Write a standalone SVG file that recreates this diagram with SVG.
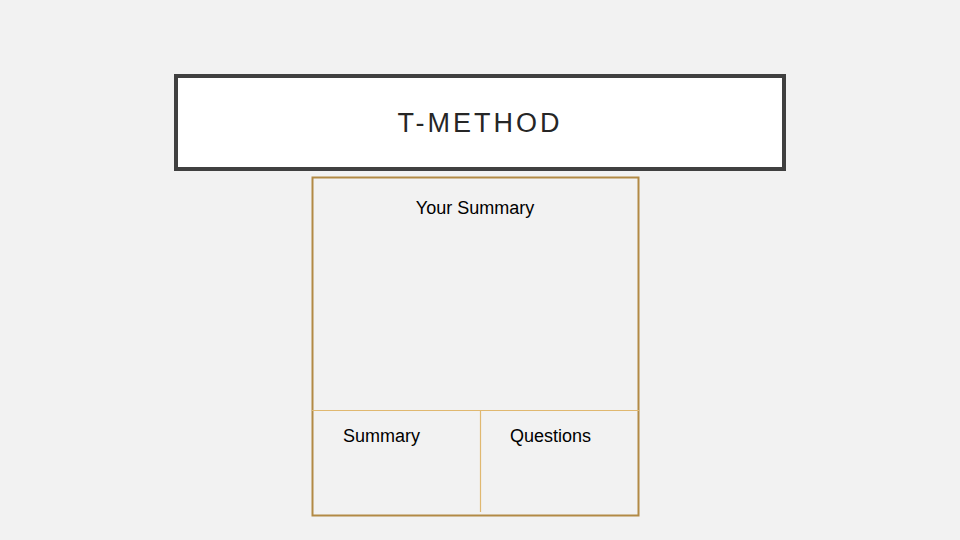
<svg xmlns="http://www.w3.org/2000/svg" width="960" height="540" viewBox="0 0 960 540">
<style>
.lbl{font-family:"Liberation Sans",Arial,sans-serif;font-size:18px;fill:#000}
.brown{stroke:#b28a45;fill:none}
</style>
<rect width="960" height="540" fill="#f2f2f2"/>
<g id="title">
<rect x="176" y="76" width="608" height="93" fill="#fff" stroke="#404040" stroke-width="4"/>
<text x="480" y="132" text-anchor="middle" font-family="'Liberation Sans',Arial,sans-serif" font-size="27" letter-spacing="3" fill="#262626">T-METHOD</text>
</g>
<g id="your-summary">
<rect x="312.5" y="177.5" width="326" height="338" class="brown" stroke-width="2"/>
<text class="lbl" x="475" y="214" text-anchor="middle">Your Summary</text>
</g>
<g id="connectors">
<line x1="312" y1="410.5" x2="639" y2="410.5" stroke="#e0b870" stroke-width="1.2"/>
<line x1="480.5" y1="411" x2="480.5" y2="512" stroke="#e0b870" stroke-width="1.2"/>
</g>
<g id="summary">
<text class="lbl" x="343" y="442">Summary</text>
</g>
<g id="questions">
<text class="lbl" x="510" y="442">Questions</text>
</g>
</svg>
